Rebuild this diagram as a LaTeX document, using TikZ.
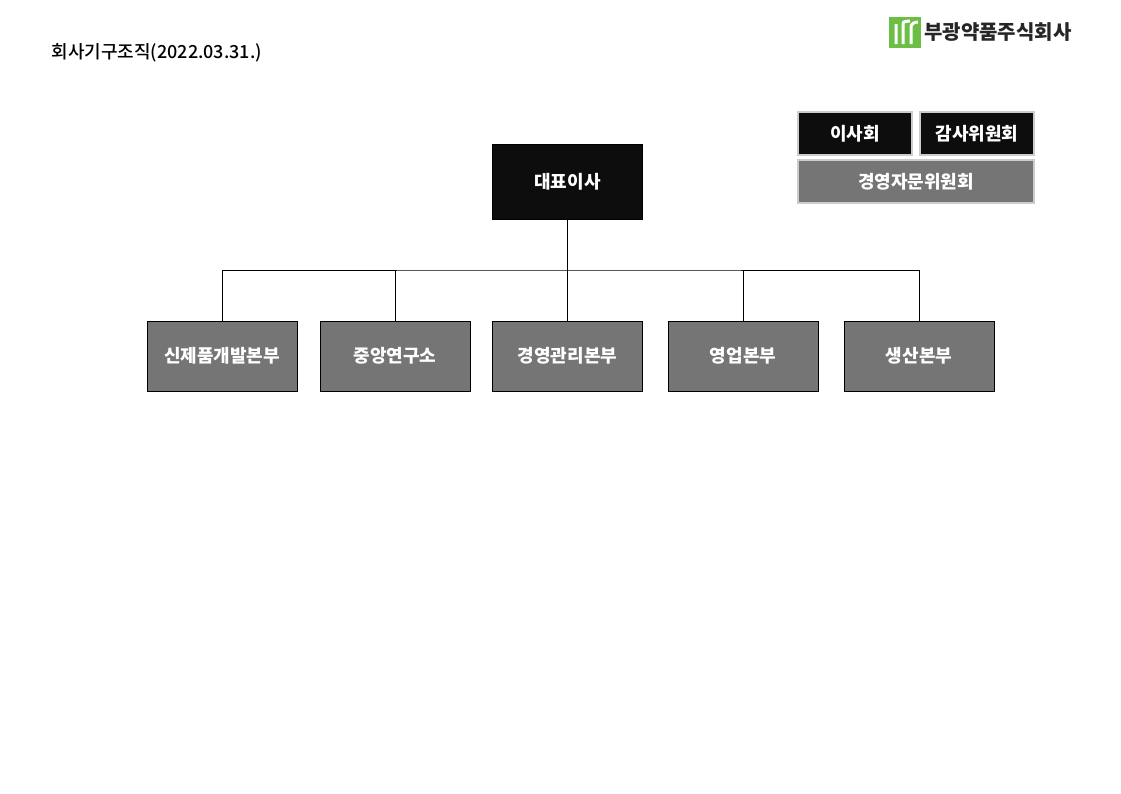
\documentclass[tikz,border=0pt]{standalone}
\usepackage{fontspec}
\setmainfont{Noto Sans CJK KR}
\newfontfamily\titlefont{Noto Sans CJK KR Medium}
\usetikzlibrary{positioning}
\definecolor{box-black}{HTML}{0D0D0D}
\definecolor{box-gray}{HTML}{757575}
\definecolor{logo-green}{HTML}{6DBE45}
\begin{document}
\begin{tikzpicture}[x=1pt, y=-1pt,
  unit/.style={draw, minimum width=150pt, minimum height=70pt, fill=box-gray, text=white, font=\fontsize{18}{20}\selectfont\bfseries, inner sep=0pt},
  head/.style={unit, fill=box-black, minimum height=75pt},
  board/.style={draw=black!20, line width=1.2pt, fill=box-black, text=white, minimum height=43pt, font=\fontsize{18}{20}\selectfont\bfseries, inner sep=0pt},
  link/.style={draw, line width=0.6pt}
]
\useasboundingbox (0,0) rectangle (1121,793);

% Title
\node[anchor=west, font=\fontsize{18}{20}\selectfont\titlefont] (title) at (48,53) {회사기구조직(2022.03.31.)};

% Logo
\node[fill=logo-green, minimum width=32pt, minimum height=31pt, inner sep=0pt] (logo) at (905,32) {};
\draw[white, line width=3pt] (896,44) -- (896,24) (903,44) -- (903,24) to[out=90,in=180] (910,21) (911,44) -- (911,27) to[out=90,in=180] (918,22);
\node[anchor=west, font=\fontsize{20}{22}\selectfont\bfseries, text=black!85, inner sep=0pt] (company) at (924,32) {부광약품주식회사};

% Board
\node[board, minimum width=114pt] (bod) at (855,133.5) {이사회};
\node[board, minimum width=114pt] (audit) at (977,133.5) {감사위원회};
\node[board, fill=box-gray, minimum width=236pt] (advisory) at (916,181.5) {경영자문위원회};

% CEO
\node[head] (ceo) at (567.5,181.5) {대표이사};

% Divisions
\node[unit] (newdrug) at (222,356) {신제품개발본부};
\node[unit] (research) at (395,356) {중앙연구소};
\node[unit] (manage) at (567.5,356) {경영관리본부};
\node[unit] (sales) at (743,356) {영업본부};
\node[unit] (product) at (919,356) {생산본부};

% Edges
\coordinate (bus) at (567.5,270);
\draw[link] (ceo.south) -- (manage.north);
\draw[link] (newdrug.north) |- (bus) -| (product.north);
\draw[link] (research.north) -- (research.north |- bus);
\draw[link] (sales.north) -- (sales.north |- bus);
\end{tikzpicture}
\end{document}
